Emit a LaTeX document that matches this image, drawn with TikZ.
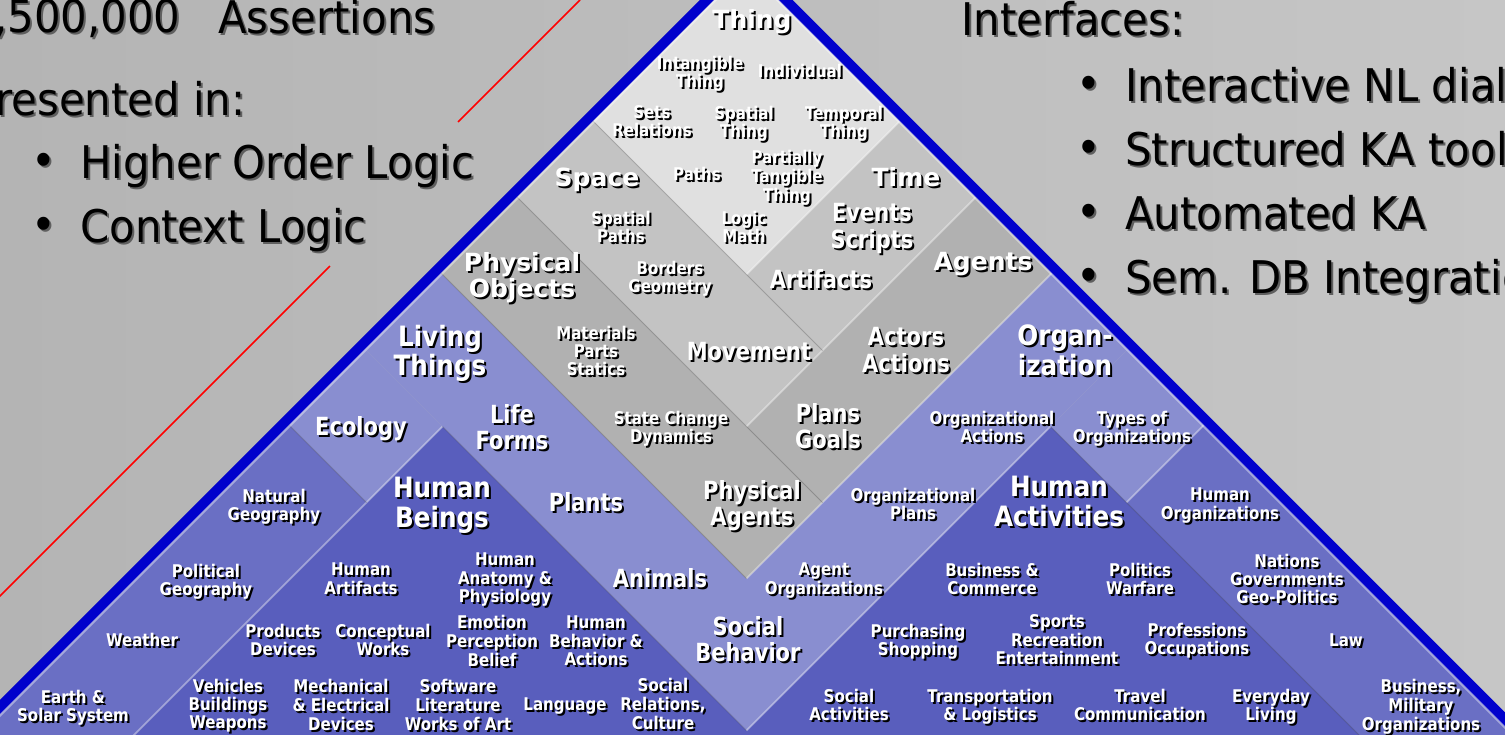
\documentclass[tikz,border=0pt]{standalone}
\usepackage{fontspec}
\setmainfont{DejaVu Sans}
\newfontfamily\fSl{DejaVu Sans}[FakeStretch=0.93]
\newfontfamily\fSm{DejaVu Sans}[FakeStretch=0.86]
\newfontfamily\fMw{DejaVu Sans}[FakeStretch=1.0]
\newfontfamily\fMn{DejaVu Sans}[FakeStretch=0.84]
\newfontfamily\fBg{DejaVu Sans}[FakeStretch=0.88]
\definecolor{bgL}{RGB}{180,180,180}
\definecolor{bgR}{RGB}{198,198,198}
\definecolor{cLight}{RGB}{224,224,224}
\definecolor{cMid}{RGB}{195,195,195}
\definecolor{cDark}{RGB}{177,177,177}
\definecolor{cPeri}{RGB}{137,142,208}
\definecolor{cMblue}{RGB}{106,111,196}
\definecolor{cDblue}{RGB}{89,94,189}
\definecolor{cBorder}{RGB}{0,0,204}
\definecolor{cShadow}{RGB}{95,95,95}
\tikzset{
  lb/.style={inner sep=0pt, yshift=-2.5pt},
  labS/.style={lb, font=\fSm\bfseries\fontsize{17.5}{17.5}\selectfont},
  labMW/.style={lb, font=\fMw\bfseries\fontsize{25}{24}\selectfont},
  labMN/.style={lb, font=\fMn\bfseries\fontsize{25}{24}\selectfont},
  labB/.style={lb, font=\fBg\bfseries\fontsize{28}{28}\selectfont},
  slide/.style={inner sep=0pt, anchor=base west, yshift=4pt, font=\fSl\fontsize{45}{45}\selectfont},
  hl/.style={white, opacity=.35, line width=2pt},
  dl/.style={black, opacity=.2, line width=1pt},
}
\newcommand\stk[1]{\begin{tabular}{@{}c@{}}#1\end{tabular}}
\newcommand\shd[1]{\leavevmode\rlap{\kern2pt\raisebox{-2pt}{\color{black}\stk{#1}}}\stk{#1}}
\newcommand\lab[5]{%
  \node[#2,text=white] (#1) at (#3,#4) {\shd{#5}};}
\newcommand\stxt[4]{%
  \node[slide,text=black] (#1) at (#2,#3) {\leavevmode\rlap{\kern2pt\raisebox{-2pt}{\color{cShadow}\stk{#4}}}\stk{#4}};}
\begin{document}
\begin{tikzpicture}[x=1pt,y=-1pt]
\useasboundingbox (0,0) rectangle (1505,734);
\begin{scope}
\clip (0,0) rectangle (1505,734);
\shade[left color=bgL,right color=bgR] (0,0) rectangle (1505,734);
% red lines
\coordinate (r1a) at (580,0);
\coordinate (r1b) at (458,122);
\coordinate (r2a) at (330,266);
\coordinate (r2b) at (-2,598);
\draw[red,line width=1.6pt] (r1a) -- (r1b) (r2a) -- (r2b);
% pyramid in rotated (u,v) coordinates
\begin{scope}[x={(0.5pt,-0.5pt)},y={(0.5pt,0.5pt)}]
\fill[cDblue] (869,-2200) -- (3000,-2200) -- (3000,16) -- (869,16) -- cycle;
\fill[cDblue] (1477,-2200) -- (3000,-2200) -- (3000,624) -- (1477,624) -- cycle;
\fill[cMblue] (712,-2200) -- (869,-2200) -- (869,-136) -- (712,-136) -- cycle;
\fill[cMblue] (1629,624) -- (3000,624) -- (3000,780) -- (1629,780) -- cycle;
\fill[cPeri] (712,16) -- (1477,16) -- (1477,168) -- (712,168) -- cycle;
\fill[cPeri] (1325,16) -- (1477,16) -- (1477,780) -- (1325,780) -- cycle;
\fill[cPeri] (712,-136) -- (869,-136) -- (869,16) -- (712,16) -- cycle;
\fill[cPeri] (1477,624) -- (1629,624) -- (1629,780) -- (1477,780) -- cycle;
\fill[cDark] (712,168) -- (1325,168) -- (1325,320) -- (712,320) -- cycle;
\fill[cDark] (1173,168) -- (1325,168) -- (1325,780) -- (1173,780) -- cycle;
\fill[cMid] (712,320) -- (1173,320) -- (1173,472) -- (712,472) -- cycle;
\fill[cMid] (1021,320) -- (1173,320) -- (1173,780) -- (1021,780) -- cycle;
\fill[cLight] (712,472) -- (1021,472) -- (1021,780) -- (712,780) -- cycle;
% separators
\draw[hl] (1021,780) -- (1021,472);
\draw[hl] (1173,780) -- (1173,320);
\draw[hl] (1325,780) -- (1325,168);
\draw[hl] (1477,624) -- (1477,16);
\draw[hl] (1629,780) -- (1629,624);
\draw[hl] (869,16) -- (869,-2200);
\draw[dl] (712,472) -- (1173,472);
\draw[dl] (712,320) -- (1325,320);
\draw[dl] (712,168) -- (1325,168);
\draw[dl] (869,16) -- (1477,16);
\draw[dl] (712,-136) -- (869,-136);
\draw[dl] (1477,624) -- (3000,624);
% border
\draw[cBorder,line width=10pt,line join=miter] (707,-2200) -- (707,785.5) -- (3000,785.5);
\draw[white,opacity=.4,line width=2.2pt] (715.5,-2200) -- (715.5,777.5) -- (3000,777.5);
\end{scope}
% labels: top diamond
\lab{thing}{labMW}{752}{21}{Thing}
\lab{intang}{labS}{700}{73}{Intangible\\Thing}
\lab{indiv}{labS}{800}{72}{Individual}
\lab{sets}{labS}{652}{122}{Sets\\Relations}
\lab{spthing}{labS}{744}{123}{Spatial\\Thing}
\lab{tempthing}{labS}{844}{123}{Temporal\\Thing}
\lab{paths}{labS}{697}{175}{Paths}
\lab{ptt}{labS}{787}{177}{Partially\\Tangible\\Thing}
\lab{logic}{labS}{744}{228}{Logic\\Math}
% space / time
\lab{space}{labMW}{597}{179}{Space}
\lab{time}{labMW}{906}{179}{Time}
\lab{sppaths}{labS}{621}{228}{Spatial\\Paths}
\lab{events}{labMN}{872}{228}{Events\\Scripts}
\lab{borders}{labS}{670}{278}{Borders\\Geometry}
\lab{artifacts}{labMN}{821}{281}{Artifacts}
\lab{movement}{labMN}{749}{353}{Movement}
% physical objects / agents
\lab{physobj}{labMW}{522}{277}{Physical\\Objects}
\lab{materials}{labS}{596}{352}{Materials\\Parts\\Statics}
\lab{statechange}{labS}{671}{428}{State Change\\Dynamics}
\lab{physagents}{labMN}{752}{505}{Physical\\Agents}
\lab{plans}{labMN}{828}{428}{Plans\\Goals}
\lab{actors}{labMN}{906}{352}{Actors\\Actions}
\lab{agents}{labMW}{983}{263}{Agents}
% living things / organization
\lab{living}{labB}{440}{353}{Living\\Things}
\lab{lifeforms}{labMN}{512}{429}{Life\\Forms}
\lab{plants}{labMN}{586}{504}{Plants}
\lab{animals}{labMN}{660}{580}{Animals}
\lab{socbeh}{labMN}{748}{641}{Social\\Behavior}
\lab{organ}{labB}{1065}{353}{Organ-\\ization}
\lab{orgact}{labS}{992}{428}{Organizational\\Actions}
\lab{orgplans}{labS}{913}{505}{Organizational\\Plans}
\lab{agentorg}{labS}{824}{580}{Agent\\Organizations}
\lab{ecology}{labMN}{361}{428}{Ecology}
\lab{types}{labS}{1132}{428}{Types of\\Organizations}
% medium blue
\lab{natgeo}{labS}{274}{506}{Natural\\Geography}
\lab{polgeo}{labS}{206}{581}{Political\\Geography}
\lab{weather}{labS}{142}{641}{Weather}
\lab{earth}{labS}{73}{707}{Earth \&\\Solar System}
\lab{humorg}{labS}{1220}{505}{Human\\Organizations}
\lab{nations}{labS}{1287}{580}{Nations\\Governments\\Geo-Politics}
\lab{law}{labS}{1346}{641}{Law}
\lab{busmil}{labS}{1421}{706}{Business,\\Military\\Organizations}
% human beings
\lab{humbeings}{labB}{442}{505}{Human\\Beings}
\lab{humart}{labS}{361}{580}{Human\\Artifacts}
\lab{anatomy}{labS}{505}{579}{Human\\Anatomy \&\\Physiology}
\lab{products}{labS}{283}{641}{Products\\Devices}
\lab{concept}{labS}{383}{641}{Conceptual\\Works}
\lab{emotion}{labS}{492}{642}{Emotion\\Perception\\Belief}
\lab{behavior}{labS}{596}{642}{Human\\Behavior \&\\Actions}
\lab{vehicles}{labS}{228}{705}{Vehicles\\Buildings\\Weapons}
\lab{mech}{labS}{341}{706}{Mechanical\\\& Electrical\\Devices}
\lab{software}{labS}{458}{706}{Software\\Literature\\Works of Art}
\lab{language}{labS}{565}{705}{Language}
\lab{socrel}{labS}{663}{705}{Social\\Relations,\\Culture}
% human activities
\lab{humact}{labB}{1059}{504}{Human\\Activities}
\lab{business}{labS}{992}{580}{Business \&\\Commerce}
\lab{politics}{labS}{1140}{580}{Politics\\Warfare}
\lab{purchasing}{labS}{918}{641}{Purchasing\\Shopping}
\lab{sports}{labS}{1057}{641}{Sports\\Recreation\\Entertainment}
\lab{professions}{labS}{1197}{640}{Professions\\Occupations}
\lab{socact}{labS}{849}{706}{Social\\Activities}
\lab{transport}{labS}{990}{706}{Transportation\\\& Logistics}
\lab{travel}{labS}{1140}{706}{Travel\\Communication}
\lab{everyday}{labS}{1271}{706}{Everyday\\Living}
% slide text
\stxt{nA}{-6}{33}{,500,000}
\stxt{nB}{218}{33}{Assertions}
\stxt{nC}{-5}{115}{resented in:}
\stxt{bA}{31}{178}{•}
\stxt{nD}{80}{178}{Higher Order Logic}
\stxt{bB}{31}{242}{•}
\stxt{nE}{80}{242}{Context Logic}
\stxt{nF}{961}{35}{Interfaces:}
\stxt{bC}{1076}{101}{•}
\stxt{nG}{1125}{101}{Interactive NL dial}
\stxt{bD}{1076}{165}{•}
\stxt{nH}{1125}{165}{Structured KA tool}
\stxt{bE}{1076}{229}{•}
\stxt{nI}{1125}{229}{Automated KA}
\stxt{bF}{1076}{293}{•}
\stxt{nJ}{1125}{293}{Sem. DB Integratio}
\end{scope}
\end{tikzpicture}
\end{document}
